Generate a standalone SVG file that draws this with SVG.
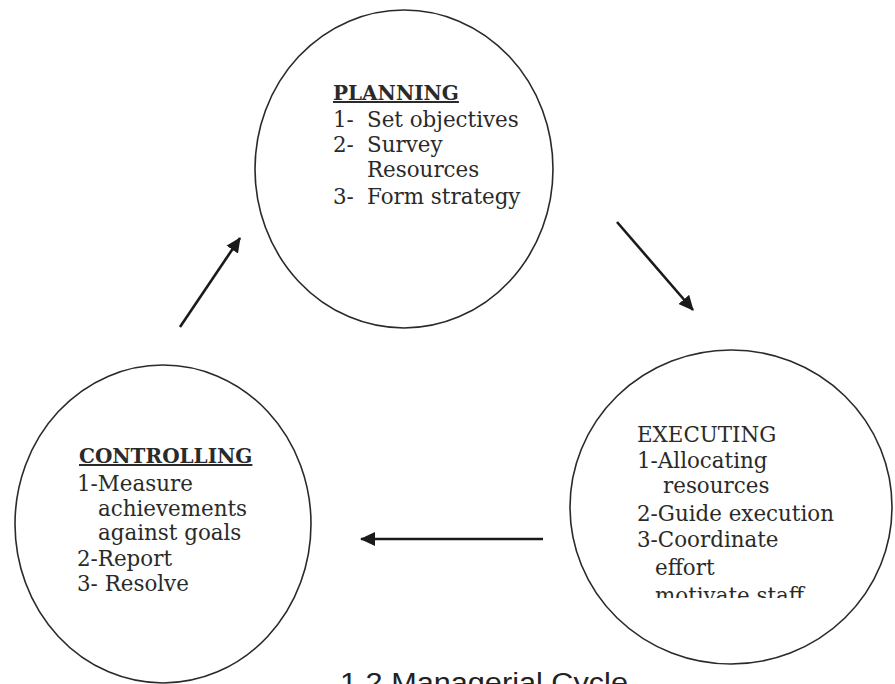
<svg xmlns="http://www.w3.org/2000/svg" width="895" height="684" viewBox="0 0 895 684">
<style>
  .ring { fill: none; stroke: #2a2a2a; stroke-width: 1.6; }
  .t { font-family: "DejaVu Serif", "Liberation Serif", serif; font-size: 21.4px; fill: #2a2a2a; }
  .h { font-size: 20px; font-weight: bold; text-decoration: underline; }
  .link { stroke: #1a1a1a; stroke-width: 2.6; fill: none; marker-end: url(#ah); }
  .cap { font-family: "Liberation Sans", Arial, sans-serif; font-size: 27px; fill: #222; }
</style>
<defs>
  <marker id="ah" markerUnits="userSpaceOnUse" markerWidth="16" markerHeight="14" refX="14" refY="7" orient="auto">
    <path d="M0,0 L15,7 L0,14 Z" fill="#1a1a1a"/>
  </marker>
  <clipPath id="clipExec">
    <rect x="560" y="340" width="335" height="258"/>
  </clipPath>
</defs>
<rect width="895" height="684" fill="#ffffff"/>

<g id="planning">
  <ellipse class="ring" cx="404" cy="169" rx="149" ry="159"/>
  <text class="t h" x="333" y="100">PLANNING</text>
  <text class="t" x="333" y="127">1-</text><text class="t" x="367" y="127">Set objectives</text>
  <text class="t" x="333" y="152">2-</text><text class="t" x="367" y="152">Survey</text>
  <text class="t" x="367" y="177">Resources</text>
  <text class="t" x="333" y="204">3-</text><text class="t" x="367" y="204">Form strategy</text>
</g>

<g id="executing">
  <ellipse class="ring" cx="731" cy="507" rx="161" ry="157"/>
  <g clip-path="url(#clipExec)">
    <text class="t" x="637" y="442">EXECUTING</text>
    <text class="t" x="637" y="468">1-Allocating</text>
    <text class="t" x="663" y="493">resources</text>
    <text class="t" x="637" y="521">2-Guide execution</text>
    <text class="t" x="637" y="547">3-Coordinate</text>
    <text class="t" x="655" y="575">effort</text>
    <text class="t" x="655" y="603">motivate staff</text>
  </g>
</g>

<g id="controlling">
  <ellipse class="ring" cx="163" cy="524" rx="148" ry="159"/>
  <text class="t h" x="79" y="463">CONTROLLING</text>
  <text class="t" x="77" y="491">1-Measure</text>
  <text class="t" x="98" y="516">achievements</text>
  <text class="t" x="98" y="540">against goals</text>
  <text class="t" x="77" y="566">2-Report</text>
  <text class="t" x="77" y="591">3- Resolve</text>
</g>

<g id="connectors">
  <line class="link" x1="180" y1="327" x2="240" y2="238"/>
  <line class="link" x1="617" y1="222" x2="693" y2="310"/>
  <line class="link" x1="543" y1="539" x2="361" y2="539"/>
</g>

<g id="caption">
  <text class="cap" x="340" y="692" textLength="288" lengthAdjust="spacingAndGlyphs">1.2  Managerial Cycle</text>
</g>
</svg>
